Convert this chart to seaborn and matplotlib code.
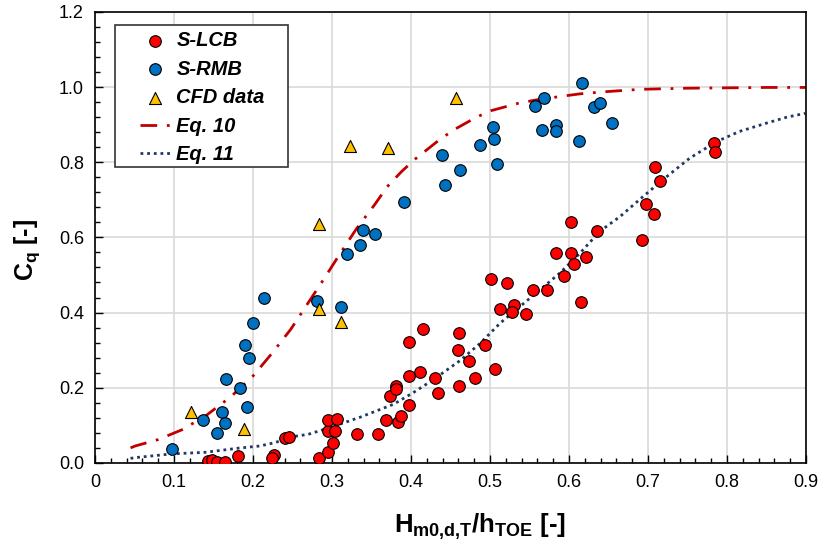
import matplotlib
matplotlib.use("Agg")
import matplotlib.pyplot as plt
from matplotlib.patches import Rectangle
from matplotlib.ticker import MultipleLocator, FormatStrFormatter
import seaborn as sns
import pandas as pd

# S-LCB measurements (red circles)
lcb_x = [0.143, 0.148, 0.154, 0.164, 0.181, 0.226, 0.224, 0.241, 0.246, 0.284,
         0.295, 0.301, 0.295, 0.304, 0.295, 0.306, 0.332, 0.358, 0.369, 0.374,
         0.381, 0.381, 0.383, 0.387, 0.397, 0.397, 0.411, 0.398, 0.415, 0.431,
         0.434, 0.459, 0.461, 0.461, 0.473, 0.481, 0.494, 0.506, 0.501, 0.513,
         0.522, 0.530, 0.528, 0.546, 0.554, 0.572, 0.584, 0.594, 0.602, 0.603,
         0.607, 0.615, 0.622, 0.635, 0.692, 0.697, 0.708, 0.709, 0.715, 0.784,
         0.785]
lcb_y = [0.005, 0.007, 0.003, 0.003, 0.019, 0.021, 0.013, 0.065, 0.070, 0.013,
         0.029, 0.052, 0.084, 0.086, 0.113, 0.118, 0.076, 0.078, 0.114, 0.178,
         0.205, 0.197, 0.109, 0.125, 0.153, 0.231, 0.241, 0.321, 0.356, 0.227,
         0.187, 0.301, 0.345, 0.205, 0.272, 0.227, 0.314, 0.249, 0.490, 0.409,
         0.478, 0.420, 0.401, 0.397, 0.459, 0.459, 0.559, 0.498, 0.640, 0.558,
         0.530, 0.427, 0.548, 0.616, 0.593, 0.688, 0.663, 0.786, 0.751, 0.852,
         0.828]

# S-RMB measurements (blue circles)
rmb_x = [0.098, 0.137, 0.154, 0.161, 0.164, 0.166, 0.184, 0.193, 0.190, 0.195,
         0.200, 0.214, 0.281, 0.311, 0.319, 0.335, 0.339, 0.354, 0.391, 0.443,
         0.439, 0.462, 0.487, 0.504, 0.505, 0.509, 0.557, 0.568, 0.566, 0.583,
         0.583, 0.613, 0.616, 0.632, 0.639, 0.654]
rmb_y = [0.037, 0.113, 0.080, 0.135, 0.107, 0.224, 0.198, 0.149, 0.314, 0.279,
         0.371, 0.440, 0.430, 0.414, 0.557, 0.580, 0.619, 0.609, 0.695, 0.739,
         0.820, 0.780, 0.847, 0.894, 0.862, 0.795, 0.949, 0.972, 0.886, 0.898,
         0.882, 0.857, 1.010, 0.948, 0.957, 0.904]

# CFD data (yellow triangles)
cfd_x = [0.122, 0.188, 0.284, 0.284, 0.311, 0.323, 0.371, 0.457]
cfd_y = [0.136, 0.090, 0.410, 0.636, 0.376, 0.843, 0.838, 0.970]

# Eq. 10 curve
eq10_x = [0.045, 0.051, 0.080, 0.110, 0.140, 0.172, 0.200, 0.225, 0.248, 0.269,
          0.290, 0.310, 0.331, 0.354, 0.370, 0.388, 0.405, 0.435, 0.454, 0.483,
          0.501, 0.536, 0.559, 0.589, 0.614, 0.648, 0.690, 0.750, 0.800, 0.850,
          0.900]
eq10_y = [0.040, 0.045, 0.062, 0.088, 0.125, 0.176, 0.231, 0.294, 0.356, 0.423,
          0.490, 0.556, 0.623, 0.687, 0.735, 0.775, 0.808, 0.858, 0.886, 0.920,
          0.937, 0.957, 0.966, 0.975, 0.982, 0.988, 0.994, 0.997, 0.998, 0.999,
          0.999]

# Eq. 11 curve
eq11_x = [0.045, 0.051, 0.098, 0.139, 0.181, 0.209, 0.228, 0.251, 0.270, 0.293,
          0.335, 0.378, 0.403, 0.428, 0.462, 0.487, 0.513, 0.538, 0.563, 0.589,
          0.614, 0.639, 0.665, 0.694, 0.724, 0.753, 0.787, 0.816, 0.850, 0.876,
          0.899]
eq11_y = [0.012, 0.014, 0.024, 0.028, 0.039, 0.045, 0.054, 0.070, 0.076, 0.091,
          0.121, 0.156, 0.187, 0.221, 0.272, 0.317, 0.372, 0.416, 0.460, 0.506,
          0.558, 0.616, 0.656, 0.709, 0.762, 0.811, 0.855, 0.882, 0.904, 0.920,
          0.930]

lcb = pd.DataFrame({"x": lcb_x, "y": lcb_y})
rmb = pd.DataFrame({"x": rmb_x, "y": rmb_y})
cfd = pd.DataFrame({"x": cfd_x, "y": cfd_y})
eq10 = pd.DataFrame({"x": eq10_x, "y": eq10_y})
eq11 = pd.DataFrame({"x": eq11_x, "y": eq11_y})

sns.set_style("white")
plt.rcParams["font.family"] = ["Liberation Sans", "DejaVu Sans"]
plt.rcParams["mathtext.fontset"] = "custom"
plt.rcParams["mathtext.rm"] = "Liberation Sans"
plt.rcParams["mathtext.bf"] = "Liberation Sans:bold"
for k in ["text.color", "axes.labelcolor", "xtick.color", "ytick.color"]:
    plt.rcParams[k] = "black"

fig = plt.figure(figsize=(8.19, 5.42), dpi=100)
ax = fig.add_axes([0.116, 0.146, 0.868, 0.832])

sns.lineplot(data=eq10, x="x", y="y", ax=ax, color="#C00000", lw=2,
             linestyle=(0, (6, 3.5, 1, 3.5)), label="Eq. 10", zorder=2)
sns.lineplot(data=eq11, x="x", y="y", ax=ax, color="#1F3864", lw=2,
             linestyle=(0, (1, 1.4)), label="Eq. 11", zorder=2)
sns.scatterplot(data=lcb, x="x", y="y", ax=ax, color="#FF0000", s=70,
                edgecolor="black", linewidth=0.8, label="S-LCB", zorder=3)
sns.scatterplot(data=rmb, x="x", y="y", ax=ax, color="#0070C0", s=70,
                edgecolor="black", linewidth=0.8, label="S-RMB", zorder=3)
sns.scatterplot(data=cfd, x="x", y="y", ax=ax, color="#FFC000", s=75, marker="^",
                edgecolor="black", linewidth=0.8, label="CFD data", zorder=4)

ax.set_xlim(0, 0.9)
ax.set_ylim(0, 1.2)
ax.xaxis.set_major_locator(MultipleLocator(0.1))
ax.xaxis.set_minor_locator(MultipleLocator(0.02))
ax.yaxis.set_major_locator(MultipleLocator(0.2))
ax.yaxis.set_minor_locator(MultipleLocator(0.04))
ax.xaxis.set_major_formatter(lambda v, p: "0" if abs(v) < 1e-9 else f"{v:.1f}")
ax.yaxis.set_major_formatter(FormatStrFormatter("%.1f"))
ax.grid(True, which="major", color="#D9D9D9", lw=1.2)
ax.set_axisbelow(True)
ax.tick_params(which="both", bottom=True, left=True, top=False, right=False)
ax.tick_params(which="major", direction="in", length=6, width=1, labelsize=13,
               pad=8)
ax.tick_params(which="minor", direction="in", length=3.5, width=1)
for sp in ax.spines.values():
    sp.set_color("black")
    sp.set_linewidth(1.2)

ax.set_xlabel(r"$\mathbf{H_{m0{,}d{,}T}/h_{TOE}}$ [-]", fontsize=18.5,
              fontweight="bold")
ax.xaxis.set_label_coords(0.541, -0.108)
ax.set_ylabel(r"$\mathbf{C_q}$ [-]", fontsize=18, fontweight="bold")
ax.yaxis.set_label_coords(-0.074, 0.472)

# legend: entries without frame, box drawn separately for wider side padding
handles, labels = ax.get_legend_handles_labels()
order = ["S-LCB", "S-RMB", "CFD data", "Eq. 10", "Eq. 11"]
hmap = dict(zip(labels, handles))
leg = ax.legend([hmap[k] for k in order], order, loc="upper left",
                bbox_to_anchor=(0.0633, 0.957), borderaxespad=0, frameon=False,
                handlelength=1.5, handletextpad=0.3, labelspacing=0.47,
                borderpad=0,
                prop={"weight": "bold", "style": "italic", "size": 14.5})
leg.set_zorder(6)
ax.add_patch(Rectangle((0.0281, 0.656), 0.2433, 0.315, transform=ax.transAxes,
                       facecolor="white", edgecolor="#333333", lw=1.2,
                       zorder=5))

fig.savefig("out.png", dpi=100)
